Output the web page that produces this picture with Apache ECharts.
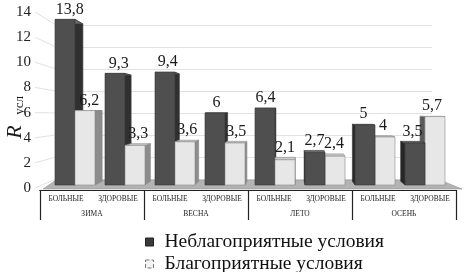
<!DOCTYPE html>
<html lang="ru">
  <head>
    <meta charset="UTF-8" />
    <title>Rусл</title>
    <style>
      html,
      body {
        margin: 0;
        background: #fff;
      }
      #main {
        width: 465px;
        height: 272px;
      }
    </style>
  </head>
  <body>
    <div id="main"></div>
    <script src="https://cdn.jsdelivr.net/npm/echarts@6.0.0/dist/echarts.min.js"></script>
    <script>
      // данные
      const seasons = ["ЗИМА", "ВЕСНА", "ЛЕТО", "ОСЕНЬ"];
      const groups = ["БОЛЬНЫЕ", "ЗДОРОВЫЕ"];
      const unfavorable = [13.8, 9.3, 9.4, 6, 6.4, 2.7, 5, 3.5];
      const favorable = [6.2, 3.3, 3.6, 3.5, 2.1, 2.4, 4, 5.7];
      const yTicks = [0, 2, 4, 6, 8, 10, 12, 14];
      const names = ["Неблагоприятные условия", "Благоприятные условия"];

      const categories = seasons.flatMap(() => groups);
      const font = "Liberation Serif";
      const fmt = (v) => String(v).replace(".", ",");
      const yMin = yTicks[0];
      const yMax = yTicks[yTicks.length - 1];
      const yStep = yTicks[1] - yTicks[0];

      const palette = [
        { front: "#4f4f4f", side: "#303030", sideL: "#262626", top: "#6b6b6b", stroke: "#383838" },
        { front: "#e7e7e7", side: "#8c8c8c", sideL: "#5a5a5a", top: "#c9c9c9", stroke: "#8a8a8a" },
      ];

      // псевдо-3D столбик: передняя грань, боковая и верхняя
      const barRenderer = (kind) => (params, api) => {
        const i = api.value(0);
        const v = api.value(1);
        const band = api.size([1, 0])[0];
        const w = band * 0.4;
        const base = api.coord([i, 0]);
        const x0 = kind === 0 ? base[0] - w : base[0];
        const x1 = x0 + w;
        const yB = base[1];
        const yT = api.coord([i, v])[1];
        const cx = (x0 + x1) / 2;
        const dx = (290 - cx) * 0.035;
        const dyB = -3.75;
        const dyT = -3.75 + (yB - yT) * 0.05;
        const ex = dx > 0 ? x1 : x0;
        const z = (kind === 0) === dx > 0 ? 0 : 10;
        const c = palette[kind];
        return {
          type: "group",
          children: [
            {
              type: "polygon",
              z2: z,
              shape: { points: [[ex, yT], [ex + dx, yT + dyT], [ex + dx, yB + dyB], [ex, yB]] },
              style: { fill: dx > 0 ? c.side : c.sideL, stroke: c.stroke, lineWidth: 0.6 },
            },
            {
              type: "polygon",
              z2: z + 1,
              shape: { points: [[x0, yT], [x1, yT], [x1 + dx, yT + dyT], [x0 + dx, yT + dyT]] },
              style: { fill: c.top, stroke: c.stroke, lineWidth: 0.6 },
            },
            {
              type: "rect",
              z2: z + 2,
              shape: { x: x0, y: yT, width: w, height: yB - yT },
              style: { fill: c.front, stroke: c.stroke, lineWidth: 0.6 },
            },
            {
              type: "text",
              z2: 50,
              style: {
                x: cx + dx * 0.6,
                y: Math.min(yT, yT + dyT) - 2,
                text: fmt(v),
                align: "center",
                verticalAlign: "bottom",
                fill: "#1a1a1a",
                font: "16px " + font,
              },
            },
          ],
        };
      };

      // пол и линии сетки на левой стенке
      const wallRenderer = (params, api) => {
        const cs = params.coordSys;
        const y0 = cs.y + cs.height;
        const children = [
          {
            type: "polygon",
            shape: {
              points: [
                [cs.x - 7, y0 + 4],
                [cs.x + cs.width + 12, y0 + 4],
                [cs.x + cs.width - 10, y0 - 5],
                [cs.x + 6, y0 - 5],
              ],
            },
            style: { fill: "#b3b3b3", stroke: "#999", lineWidth: 0.6 },
          },
        ];
        yTicks.forEach((t) => {
          const h = y0 - api.coord([0, t])[1];
          children.push({
            type: "line",
            shape: { x1: cs.x - 15, y1: y0 + 3 - h * 1.0476, x2: cs.x + 6, y2: y0 - 6 - h * 0.9167 },
            style: { stroke: "#e2e2e2", lineWidth: 1 },
          });
        });
        return { type: "group", children };
      };

      const chart = echarts.init(document.getElementById("main"));
      const option = {
        animation: false,
        backgroundColor: "#fff",
        grid: [
          { left: 40, right: 9, top: 12, bottom: 82 },
          { left: 50, right: 15, top: 17, bottom: 87 },
          { left: 56, right: 33, top: 25, bottom: 93 },
          { left: 50, right: 15, top: 12, bottom: 84 },
        ],
        xAxis: [
          {
            type: "category",
            gridIndex: 0,
            position: "bottom",
            data: categories,
            axisLine: { lineStyle: { color: "#222", width: 1 } },
            axisTick: { show: false },
            axisLabel: { interval: 0, margin: 5, fontSize: 7.5, color: "#222", fontFamily: font },
          },
          {
            type: "category",
            gridIndex: 0,
            position: "bottom",
            data: seasons,
            axisLine: { show: true, lineStyle: { color: "#222", width: 1 } },
            axisTick: { show: true, length: 30, lineStyle: { color: "#222", width: 1.2 } },
            axisLabel: { interval: 0, margin: 20, fontSize: 7.5, color: "#222", fontFamily: font },
          },
          { type: "category", gridIndex: 1, data: categories, show: false },
          { type: "value", gridIndex: 2, show: false },
          { type: "value", gridIndex: 3, show: false },
        ],
        yAxis: [
          { type: "value", gridIndex: 0, show: false, min: 0, max: 14 },
          { type: "value", gridIndex: 1, show: false, min: yMin, max: yMax, interval: yStep },
          {
            type: "value",
            gridIndex: 2,
            min: yMin,
            max: yMax,
            interval: yStep,
            axisLine: { show: false },
            axisTick: { show: false },
            axisLabel: { show: false },
            splitLine: { lineStyle: { color: "#e2e2e2", width: 1 } },
          },
          {
            type: "value",
            gridIndex: 3,
            min: yMin,
            max: yMax,
            interval: yStep,
            axisLine: { show: false },
            axisTick: { show: false },
            splitLine: { show: false },
            axisLabel: { margin: 19, fontSize: 15, color: "#222", fontFamily: font },
          },
        ],
        legend: {
          orient: "vertical",
          left: 145,
          top: 232,
          height: 60,
          padding: 0,
          itemWidth: 8,
          itemHeight: 8,
          itemGap: 2,
          icon: "rect",
          textStyle: { fontSize: 19.5, color: "#111", fontFamily: font, padding: [0, 0, 0, 6] },
          data: [
            { name: names[0], itemStyle: { color: "#3a3a3a", borderColor: "#222", borderWidth: 1 } },
            {
              name: names[1],
              itemStyle: { color: "#f4f4f4", borderColor: "#777", borderWidth: 1, borderType: "dashed" },
            },
          ],
        },
        graphic: [
          {
            type: "group",
            left: 4,
            top: 96,
            children: [
              {
                type: "text",
                rotation: Math.PI / 2,
                x: 0,
                y: 48,
                style: { text: "R", font: "italic 22px " + font, fill: "#1a1a1a" },
              },
              {
                type: "text",
                rotation: Math.PI / 2,
                x: 9,
                y: 24,
                style: { text: "усл", font: "13px " + font, fill: "#1a1a1a" },
              },
            ],
          },
        ],
        series: [
          {
            type: "custom",
            xAxisIndex: 2,
            yAxisIndex: 1,
            silent: true,
            renderItem: wallRenderer,
            data: [[0, 0]],
            z: 1,
          },
          {
            name: names[0],
            type: "custom",
            xAxisIndex: 2,
            yAxisIndex: 1,
            itemStyle: { color: "#3a3a3a" },
            renderItem: barRenderer(0),
            data: unfavorable.map((v, i) => [i, v]),
            z: 3,
          },
          {
            name: names[1],
            type: "custom",
            xAxisIndex: 2,
            yAxisIndex: 1,
            itemStyle: { color: "#f4f4f4" },
            renderItem: barRenderer(1),
            data: favorable.map((v, i) => [i, v]),
            z: 3,
          },
        ],
      };
      chart.setOption(option);
    </script>
  </body>
</html>
